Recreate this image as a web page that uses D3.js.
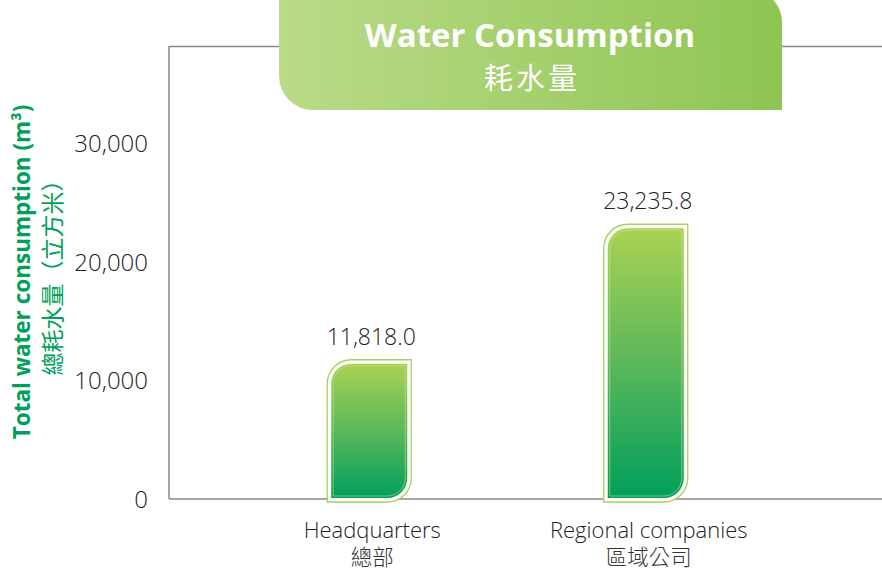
<!DOCTYPE html>
<html><head><meta charset="utf-8">
<script src="https://cdn.jsdelivr.net/npm/d3@7"></script>
<style>
html,body{margin:0;padding:0;background:#fff;}
svg{display:block;font-family:"Open Sans","Noto Sans CJK TC",sans-serif;}
</style></head>
<body>
<svg id="c" width="882" height="570"></svg>
<script>
const categories = ["Headquarters", "Regional companies"];
const categoriesZh = ["總部", "區域公司"];
const values = [11818.0, 23235.8];
const valueLabels = ["11,818.0", "23,235.8"];
const yTicks = [0, 10000, 20000, 30000];
const titleEn = "Water Consumption";
const titleZh = "耗水量";
const yTitleEn = "Total water consumption (m³)";
const yTitleZh = "總耗水量（立方米）";

const svg = d3.select("#c");
const defs = svg.append("defs");

const y = d3.scaleLinear().domain([0, 30000]).range([499, 143]);
const x = d3.scaleBand().domain(categories).range([231, 784]).paddingInner(0).paddingOuter(0);

// gradients
const bg = defs.append("linearGradient").attr("id","barGrad").attr("x1",0).attr("y1",0).attr("x2",0).attr("y2",1);
bg.append("stop").attr("offset","0%").attr("stop-color","#aad253");
bg.append("stop").attr("offset","50%").attr("stop-color","#5bb75b");
bg.append("stop").attr("offset","100%").attr("stop-color","#009f5b");

const tg = defs.append("linearGradient").attr("id","titleGrad").attr("x1",0).attr("y1",0).attr("x2",1).attr("y2",0);
tg.append("stop").attr("offset","0%").attr("stop-color","#badb88");
tg.append("stop").attr("offset","100%").attr("stop-color","#8fc553");

// axis frame lines
const frame = svg.append("g").attr("stroke","#8a8a8a").attr("stroke-width",1.5).attr("fill","none");
frame.append("line").attr("x1",169).attr("x2",882).attr("y1",46.5).attr("y2",46.5);
frame.append("line").attr("x1",169).attr("x2",169).attr("y1",46).attr("y2",y(0));
frame.append("line").attr("x1",169).attr("x2",882).attr("y1",y(0)).attr("y2",y(0));

// title box
function titleBox(x0,y0,x1,y1,rTR,rBL){
  return `M${x0},${y0} L${x1-rTR},${y0} A${rTR},${rTR} 0 0 1 ${x1},${y0+rTR} L${x1},${y1} L${x0+rBL},${y1} A${rBL},${rBL} 0 0 1 ${x0},${y1-rBL} Z`;
}
svg.append("path").attr("d", titleBox(279,-10,782,110,32,34)).attr("fill","url(#titleGrad)");
svg.append("text").attr("x",530).attr("y",47).attr("text-anchor","middle")
  .attr("fill","#fff").attr("font-size",33).attr("font-weight",700).text(titleEn);
svg.append("text").attr("x",532).attr("y",89).attr("text-anchor","middle")
  .attr("fill","#fff").attr("font-size",29).attr("letter-spacing",3)
  .attr("font-family","Noto Sans CJK TC").text(titleZh);

// y tick labels via axis
const yAxis = d3.axisLeft(y).tickValues(yTicks).tickSize(0).tickPadding(0).tickFormat(d3.format(","));
const ya = svg.append("g").attr("transform","translate(148,0)").call(yAxis);
ya.select(".domain").remove();
ya.selectAll("text").attr("font-size",24).attr("fill","#222").attr("font-weight",300)
  .attr("font-family","Open Sans").attr("dy","0.36em");

// y title
const yt = svg.append("g").attr("transform","translate(0,272) rotate(-90)");
yt.append("text").attr("x",0).attr("y",30).attr("text-anchor","middle").attr("fill","#00a05a")
  .attr("font-size",22.5).attr("font-weight",700).text(yTitleEn);
yt.append("text").attr("x",0).attr("y",61).attr("text-anchor","middle").attr("fill","#00a05a")
  .attr("font-size",23).attr("font-family","Noto Sans CJK TC").text(yTitleZh);

// bar shapes
function barPath(x0,y0,x1,y1,r){
  r = Math.min(r,(x1-x0)/2,(y1-y0)/2);
  return `M${x0},${y0+r} A${r},${r} 0 0 1 ${x0+r},${y0} L${x1},${y0} L${x1},${y1-r} A${r},${r} 0 0 1 ${x1-r},${y1} L${x0},${y1} Z`;
}
const bars = svg.append("g").selectAll("g").data(categories).join("g");
bars.each(function(c,i){
  const g = d3.select(this);
  const cx = x(c) + x.bandwidth()/2;
  const top = y(values[i]);
  // outer outline
  g.append("path").attr("d", barPath(cx-42, top+1, cx+42, y(0)+3, 24))
    .attr("fill","#fff").attr("stroke","#a6d25a").attr("stroke-width",1.3);
  // fill
  g.append("path").attr("d", barPath(cx-38, top+5, cx+38, y(0)-1, 20))
    .attr("fill","url(#barGrad)");
  // inner light line
  g.append("path").attr("d", barPath(cx-36, top+7, cx+36, y(0)-3, 18))
    .attr("fill","none").attr("stroke","rgba(200,235,140,0.55)").attr("stroke-width",1);
  // value label
  g.append("text").attr("x",cx+2).attr("y",top-14).attr("text-anchor","middle")
    .attr("font-size",23).attr("font-weight",300).attr("fill","#222").text(valueLabels[i]);
  // category labels
  g.append("text").attr("x",cx+3).attr("y",538).attr("text-anchor","middle")
    .attr("font-size",22).attr("font-weight",300).attr("fill","#222").text(c);
  g.append("text").attr("x",cx+3).attr("y",565).attr("text-anchor","middle")
    .attr("font-size",21.5).attr("font-weight",300).attr("fill","#333").attr("font-family","Noto Sans CJK TC").text(categoriesZh[i]);
});
</script>
</body></html>
